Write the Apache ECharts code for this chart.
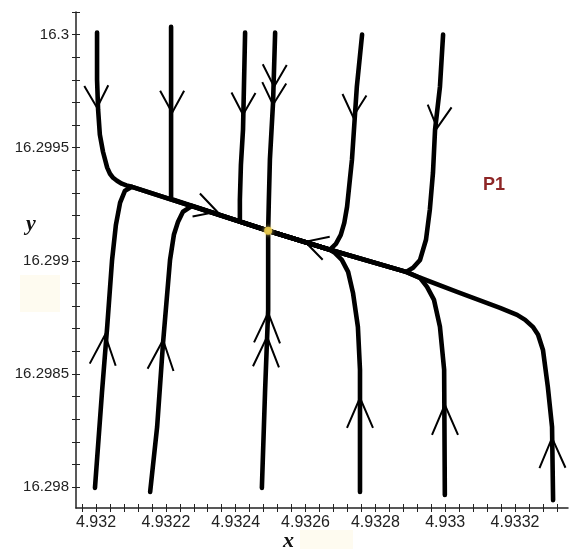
<!DOCTYPE html>
<html>
<head>
<meta charset="utf-8">
<script src="https://cdn.jsdelivr.net/npm/echarts@6/dist/echarts.min.js"></script>
<style>
  html, body { margin: 0; padding: 0; background: #fff; }
  #chart { width: 570px; height: 549px; }
</style>
</head>
<body>
<div id="chart"></div>
<script>
// Axis tick labels
const xTickLabels = ['4.932', '4.9322', '4.9324', '4.9326', '4.9328', '4.933', '4.9332'];
const yTickLabels = ['16.298', '16.2985', '16.299', '16.2995', '16.3'];

// Equilibrium point P1
const equilibrium = [4.932493, 16.299133];

// Phase trajectories, each listed in the direction of the flow
const fromTopLeft = [
  [4.932003, 16.300009], [4.932003, 16.299801], [4.932006, 16.299668], [4.932011, 16.299558],
  [4.932020, 16.299482], [4.932032, 16.299412], [4.932040, 16.299385], [4.932049, 16.299367],
  [4.932060, 16.299354], [4.932074, 16.299341], [4.932087, 16.299333], [4.932103, 16.299327],
  [4.932493, 16.299133]
];
const fromTop2 = [
  [4.932215, 16.300035], [4.932215, 16.299274], [4.932493, 16.299133]
];
const fromTop3 = [
  [4.932427, 16.300009], [4.932421, 16.299580], [4.932415, 16.299425], [4.932412, 16.299270],
  [4.932412, 16.299173], [4.932493, 16.299133]
];
const fromTop4 = [
  [4.932513, 16.300009], [4.932507, 16.299699], [4.932498, 16.299447], [4.932495, 16.299270],
  [4.932493, 16.299133]
];
const fromTop5 = [
  [4.932762, 16.300000], [4.932747, 16.299770], [4.932733, 16.299447], [4.932727, 16.299358],
  [4.932719, 16.299239], [4.932711, 16.299168], [4.932701, 16.299115], [4.932687, 16.299075],
  [4.932670, 16.299049], [4.932493, 16.299133]
];
const fromTop6 = [
  [4.932994, 16.300000], [4.932985, 16.299770], [4.932971, 16.299580], [4.932965, 16.299389],
  [4.932956, 16.299226], [4.932945, 16.299093], [4.932928, 16.299004], [4.932908, 16.298969],
  [4.932888, 16.298951], [4.932670, 16.299049], [4.932493, 16.299133]
];
const fromBottom1 = [
  [4.931997, 16.297996], [4.932017, 16.298416], [4.932032, 16.298708], [4.932046, 16.299004],
  [4.932057, 16.299159], [4.932069, 16.299257], [4.932083, 16.299310], [4.932103, 16.299327],
  [4.932493, 16.299133]
];
const fromBottom2 = [
  [4.932155, 16.297978], [4.932175, 16.298265], [4.932192, 16.298637], [4.932212, 16.299004],
  [4.932223, 16.299115], [4.932235, 16.299173], [4.932249, 16.299217], [4.932275, 16.299243],
  [4.932493, 16.299133]
];
const fromBottom3 = [
  [4.932475, 16.297996], [4.932484, 16.298416], [4.932493, 16.298783], [4.932493, 16.299133]
];
const fromBottom4 = [
  [4.932756, 16.297978], [4.932756, 16.298518], [4.932750, 16.298708], [4.932736, 16.298858],
  [4.932722, 16.298951], [4.932704, 16.299004], [4.932684, 16.299035], [4.932670, 16.299049],
  [4.932493, 16.299133]
];
const fromBottom5 = [
  [4.932999, 16.297965], [4.932997, 16.298518], [4.932985, 16.298708], [4.932968, 16.298827],
  [4.932948, 16.298885], [4.932928, 16.298925], [4.932888, 16.298951], [4.932670, 16.299049],
  [4.932493, 16.299133]
];
const fromBottomRight = [
  [4.933309, 16.297942], [4.933306, 16.298265], [4.933294, 16.298442], [4.933280, 16.298606],
  [4.933266, 16.298673], [4.933251, 16.298708], [4.933229, 16.298739], [4.933206, 16.298761],
  [4.933157, 16.298792], [4.933034, 16.298863], [4.932928, 16.298925], [4.932888, 16.298951],
  [4.932670, 16.299049], [4.932493, 16.299133]
];

const trajectories = [
  fromTopLeft, fromTop2, fromTop3, fromTop4, fromTop5, fromTop6,
  fromBottom1, fromBottom2, fromBottom3, fromBottom4, fromBottom5, fromBottomRight
];

// Direction arrows: [x, y, trajectory index]
const arrowMarks = [
  [4.932003, 16.299677, 0], [4.932218, 16.299655, 1], [4.932421, 16.299646, 2],
  [4.932510, 16.299770, 3], [4.932507, 16.299690, 3], [4.932736, 16.299637, 4],
  [4.932977, 16.299588, 5], [4.932026, 16.298673, 6], [4.932192, 16.298650, 7],
  [4.932493, 16.298770, 8], [4.932490, 16.298664, 8], [4.932756, 16.298394, 9],
  [4.932999, 16.298363, 10], [4.933306, 16.298217, 11],
  [4.932347, 16.299217, 0], [4.932599, 16.299084, 11]
];

// Axis extents and minor tick spacing
const X_MIN = 4.9319427, X_MAX = 4.9333517, X_STEP = 0.00004;
const Y_MIN = 16.2979071, Y_MAX = 16.3001, Y_STEP = 0.0001;

function tickValues(first, last, step) {
  const out = [];
  const n = Math.round((last - first) / step);
  for (let i = 0; i <= n; i++) out.push(+(first + i * step).toFixed(6));
  return out;
}
const xTicks = tickValues(4.93196, 4.93332, X_STEP);
const yTicks = tickValues(16.2980, 16.3001, Y_STEP);

function labelFor(labels) {
  return function (v) {
    let best = labels[0], d = Infinity;
    labels.forEach(function (s) {
      const dd = Math.abs(Number(s) - v);
      if (dd < d) { d = dd; best = s; }
    });
    return best;
  };
}

const axisColor = '#222';
const labelFont = { color: '#222', fontFamily: 'Liberation Sans, Arial, sans-serif' };

function xAxisDef(inside, main) {
  return {
    type: 'value', min: X_MIN, max: X_MAX, position: 'bottom', gridIndex: 0,
    splitLine: { show: false },
    axisLine: { show: main, onZero: false, lineStyle: { color: axisColor, width: 1.5 } },
    axisTick: { show: true, inside: inside, length: 4, customValues: xTicks, lineStyle: { color: axisColor, width: 1 } },
    axisLabel: main ? Object.assign({
      show: true, margin: 7, fontSize: 16,
      customValues: xTickLabels.map(Number), formatter: labelFor(xTickLabels)
    }, labelFont) : { show: false }
  };
}
function yAxisDef(inside, main) {
  return {
    type: 'value', min: Y_MIN, max: Y_MAX, position: 'left', gridIndex: 0,
    splitLine: { show: false },
    axisLine: { show: main, onZero: false, lineStyle: { color: axisColor, width: 1.5 } },
    axisTick: { show: true, inside: inside, length: 4, customValues: yTicks, lineStyle: { color: axisColor, width: 1 } },
    axisLabel: main ? Object.assign({
      show: true, margin: 7, fontSize: 15,
      customValues: yTickLabels.map(Number), formatter: labelFor(yTickLabels)
    }, labelFont) : { show: false }
  };
}

const lineSeries = trajectories.map(function (pts) {
  return {
    type: 'line', data: pts, showSymbol: false, symbol: 'none', smooth: false,
    lineStyle: { color: '#000', width: 4.6, cap: 'round', join: 'round' },
    silent: true, z: 2, clip: true
  };
});

const arrowSeries = {
  type: 'custom', data: arrowMarks, z: 3, silent: true,
  renderItem: function (params, api) {
    const p = api.coord([api.value(0), api.value(1)]);
    const pts = trajectories[api.value(2)].map(function (q) { return api.coord(q); });
    let best = Infinity, dir = [0, 1];
    for (let i = 0; i < pts.length - 1; i++) {
      const a = pts[i], b = pts[i + 1];
      const vx = b[0] - a[0], vy = b[1] - a[1];
      const len2 = vx * vx + vy * vy;
      if (len2 === 0) continue;
      let t = ((p[0] - a[0]) * vx + (p[1] - a[1]) * vy) / len2;
      t = Math.max(0, Math.min(1, t));
      const cx = a[0] + t * vx - p[0], cy = a[1] + t * vy - p[1];
      const d = cx * cx + cy * cy;
      if (d < best) { best = d; const L = Math.sqrt(len2); dir = [vx / L, vy / L]; }
    }
    const back = dir[1] < -0.5 ? 30 : 22;
    const side = dir[1] < -0.5 ? 13 : 12;
    const nx = -dir[1], ny = dir[0];
    const bx = p[0] - dir[0] * back, by = p[1] - dir[1] * back;
    return {
      type: 'polyline',
      shape: { points: [[bx + nx * side, by + ny * side], [p[0], p[1]], [bx - nx * side, by - ny * side]] },
      style: { stroke: '#000', lineWidth: 2, fill: null }
    };
  }
};

const pointSeries = {
  type: 'scatter', data: [equilibrium], symbolSize: 8, z: 5, silent: true,
  itemStyle: { color: '#f8d64e', shadowColor: '#ffe680', shadowBlur: 4 }
};

const chart = echarts.init(document.getElementById('chart'), null, { renderer: 'canvas' });
chart.setOption({
  animation: false,
  backgroundColor: '#fff',
  grid: { left: 76, top: 12, width: 492, height: 496, containLabel: false },
  xAxis: [xAxisDef(false, true), xAxisDef(true, false)],
  yAxis: [yAxisDef(false, true), yAxisDef(true, false)],
  graphic: [
    { type: 'rect', left: 20, top: 275, shape: { width: 40, height: 37 }, style: { fill: '#fefbf0' }, z: -1, silent: true },
    { type: 'rect', left: 300, top: 530, shape: { width: 53, height: 19 }, style: { fill: '#fefbf0' }, z: -1, silent: true },
    { type: 'text', left: 283, top: 530, style: { text: 'x', fill: '#111', font: 'italic bold 22px "Liberation Serif", serif' }, silent: true },
    { type: 'text', left: 26, top: 213, style: { text: 'y', fill: '#111', font: 'italic bold 22px "Liberation Serif", serif' }, silent: true },
    { type: 'text', left: 483, top: 176, style: { text: 'P1', fill: '#8e2626', font: 'bold 18px "Liberation Sans", Arial, sans-serif' }, silent: true }
  ],
  series: lineSeries.concat([arrowSeries, pointSeries])
});
</script>
</body>
</html>
